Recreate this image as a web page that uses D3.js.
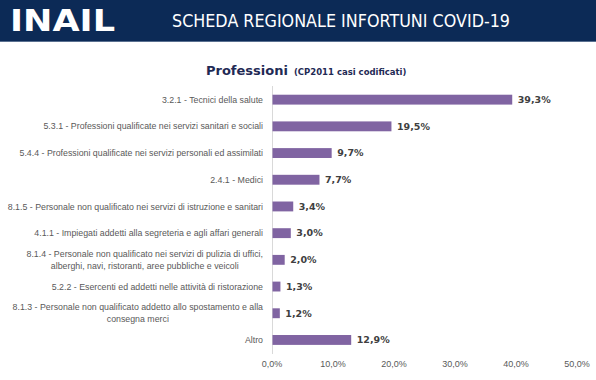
<!DOCTYPE html>
<html><head><meta charset="utf-8">
<script src="https://cdn.jsdelivr.net/npm/d3@7"></script>
<style>body{margin:0;background:#fff}svg{display:block}</style>
</head><body>
<svg id="c" width="596" height="380"></svg>
<script>
const categories = [
  ["3.2.1 - Tecnici della salute"],
  ["5.3.1 - Professioni qualificate nei servizi sanitari e sociali"],
  ["5.4.4 - Professioni qualificate nei servizi personali ed assimilati"],
  ["2.4.1 - Medici"],
  ["8.1.5 - Personale non qualificato nei servizi di istruzione e sanitari"],
  ["4.1.1 - Impiegati addetti alla segreteria e agli affari generali"],
  ["8.1.4 - Personale non qualificato nei servizi di pulizia di uffici,", "alberghi, navi, ristoranti, aree pubbliche e veicoli"],
  ["5.2.2 - Esercenti ed addetti nelle attività di ristorazione"],
  ["8.1.3 - Personale non qualificato addetto allo spostamento e alla", "consegna merci"],
  ["Altro"]
];
const values = [39.3, 19.5, 9.7, 7.7, 3.4, 3.0, 2.0, 1.3, 1.2, 12.9];
const ticks = [0, 10, 20, 30, 40, 50];
const headerTitle = "SCHEDA REGIONALE INFORTUNI COVID-19";
const chartTitle = "Professioni";
const chartSubtitle = "(CP2011 casi codificati)";

const svg = d3.select("#c");
const fmt = v => v.toFixed(1).replace(".", ",") + "%";

// header
svg.append("rect").attr("x", 0).attr("y", 0).attr("width", 596).attr("height", 41).attr("fill", "#0c2a56");
svg.append("rect").attr("x", 0).attr("y", 41).attr("width", 596).attr("height", 1).attr("fill", "#5a7090");
svg.append("text").attr("x", 10).attr("y", 31).text("INAIL")
  .attr("font-family", "DejaVu Sans").attr("font-weight", "bold").attr("font-size", 31)
  .attr("fill", "#fff").attr("textLength", 105).attr("lengthAdjust", "spacingAndGlyphs");
svg.append("text").attr("x", 172).attr("y", 27).text(headerTitle)
  .attr("font-family", "DejaVu Sans").attr("font-size", 17).attr("fill", "#fff")
  .attr("textLength", 338).attr("lengthAdjust", "spacingAndGlyphs");

// chart title
const t = svg.append("text").attr("x", 206).attr("y", 75).attr("fill", "#1f2a55")
  .attr("font-family", "DejaVu Sans").attr("font-weight", "bold");
t.append("tspan").attr("font-size", 13).text(chartTitle);
t.append("tspan").attr("font-size", 8.5).attr("dx", 6).text(chartSubtitle);

const x = d3.scaleLinear().domain([0, 50]).range([272, 577]);
const y = d3.scaleBand().domain(d3.range(values.length)).range([86.3, 353.3]).paddingInner(0.63).paddingOuter(0.315);

// axis line
svg.append("line").attr("x1", x(0)).attr("x2", x(0)).attr("y1", 86).attr("y2", 353.5)
  .attr("stroke", "#d9d9d9").attr("stroke-width", 1).attr("shape-rendering", "crispEdges");

// bars
svg.append("g").selectAll("rect").data(values).join("rect")
  .attr("x", x(0) + 0.5).attr("y", (d, i) => y(i)).attr("height", y.bandwidth())
  .attr("width", d => x(d) - x(0)).attr("fill", "#8064a2");

// value labels
svg.append("g").selectAll("text").data(values).join("text")
  .attr("x", d => x(d) + 6).attr("y", (d, i) => y(i) + y.bandwidth() / 2).attr("dy", "0.35em")
  .attr("font-family", "DejaVu Sans").attr("font-weight", "bold").attr("font-size", 9.5)
  .attr("fill", "#404040").text(d => fmt(d));

// category labels
const cg = svg.append("g");
categories.forEach((lines, i) => {
  const cy = y(i) + y.bandwidth() / 2;
  const n = lines.length;
  const lh = 12;
  const g = cg.append("g");
  const texts = lines.map((ln, k) => g.append("text")
    .attr("y", cy + (k - (n - 1) / 2) * lh).attr("dy", "0.35em")
    .attr("font-family", "Liberation Sans").attr("font-size", 8.8)
    .attr("fill", "#595959").text(ln));
  const widths = texts.map(tt => tt.node().getComputedTextLength());
  const maxW = d3.max(widths);
  const right = 263;
  const center = right - maxW / 2;
  texts.forEach(tt => tt.attr("x", center).attr("text-anchor", "middle"));
});

// ticks
svg.append("g").selectAll("text").data(ticks).join("text")
  .attr("x", d => x(d)).attr("y", 367).attr("text-anchor", "middle")
  .attr("font-family", "Liberation Sans").attr("font-size", 9).attr("fill", "#595959")
  .text(d => fmt(d));
</script>
</body></html>
